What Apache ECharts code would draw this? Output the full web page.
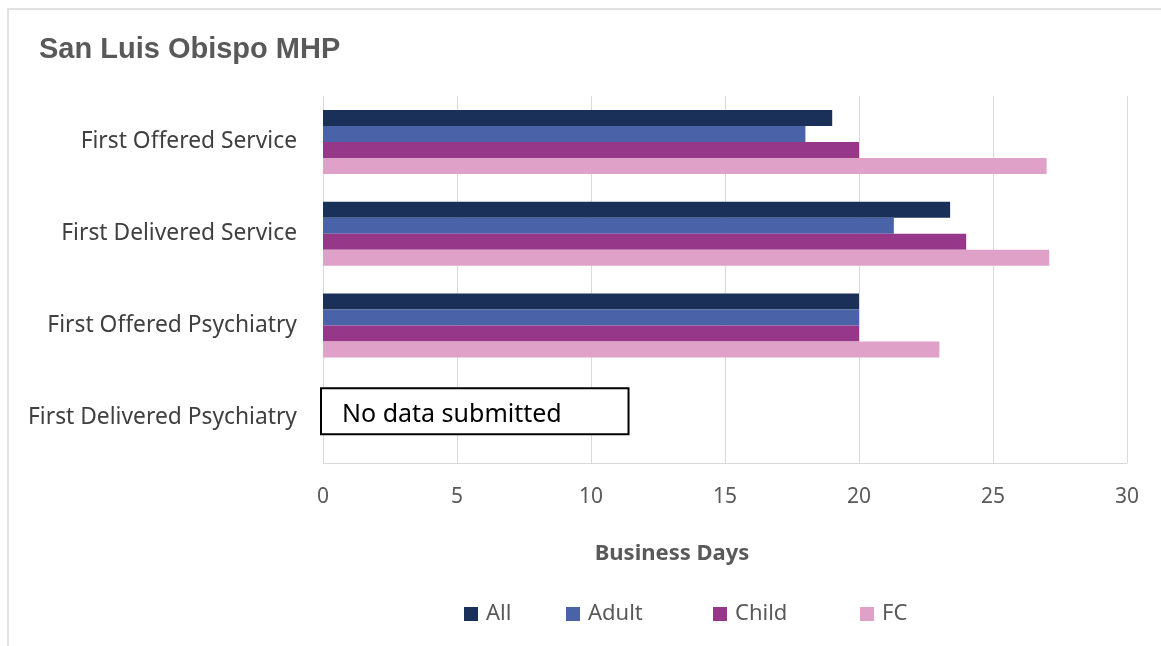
<!DOCTYPE html>
<html>
<head>
<meta charset="utf-8">
<script src="https://cdn.jsdelivr.net/npm/echarts@6/dist/echarts.min.js"></script>
<style>
  html, body { margin: 0; padding: 0; background: #ffffff; }
  #chart { width: 1161px; height: 646px; }
</style>
</head>
<body>
<div id="chart"></div>
<script>
// Timeliness measures (business days) by population
const categories = ['First Offered Service', 'First Delivered Service', 'First Offered Psychiatry', 'First Delivered Psychiatry'];
const seriesNames = ['All', 'Adult', 'Child', 'FC'];
const allValues   = [19, 23.4, 20, null];
const adultValues = [18, 21.3, 20, null];
const childValues = [20, 24, 20, null];
const fcValues    = [27, 27.1, 23, null];
const xTicks = [0, 5, 10, 15, 20, 25, 30];
const noDataCategory = 'First Delivered Psychiatry';
const noDataText = 'No data submitted';

const colors = ['#1A3059', '#4A63A8', '#963789', '#E0A1C8'];
const valueSets = [allValues, adultValues, childValues, fcValues];
const legendLefts = [464, 566, 713, 860];
const labelFont = '"Noto Sans", "Open Sans", sans-serif';

const chart = echarts.init(document.getElementById('chart'), null, { renderer: 'canvas' });

const frame = {
  type: 'rect',
  shape: { x: 8, y: 9, width: 1170, height: 660 },
  style: { fill: 'none', stroke: '#d9d9d9', lineWidth: 1.5 },
  silent: true,
  z: 0
};

const option = {
  animation: false,
  backgroundColor: '#ffffff',
  title: {
    text: 'San Luis Obispo MHP',
    left: 34,
    top: 30,
    textStyle: {
      fontFamily: '"Liberation Sans", Arial, sans-serif',
      fontWeight: 'bold',
      fontSize: 29,
      color: '#595959'
    }
  },
  // one legend block per series so each swatch sits at its own spot
  legend: seriesNames.map((name, i) => ({
    data: [name],
    left: legendLefts[i],
    top: 603,
    itemWidth: 14,
    itemHeight: 14,
    icon: 'rect',
    padding: 0,
    textStyle: { fontFamily: labelFont, fontSize: 22, color: '#595959', padding: [0, 0, 0, 3] }
  })),
  grid: { left: 323, right: 34, top: 96, bottom: 183, containLabel: false },
  xAxis: {
    type: 'value',
    min: xTicks[0],
    max: xTicks[xTicks.length - 1],
    interval: xTicks[1] - xTicks[0],
    name: 'Business Days',
    nameLocation: 'middle',
    nameGap: 80,
    nameTextStyle: {
      fontFamily: labelFont, fontWeight: 'bold', fontSize: 22, color: '#595959',
      padding: [0, 106, 0, 0]
    },
    axisLine: { show: true, lineStyle: { color: '#d9d9d9', width: 1 } },
    axisTick: { show: false },
    axisLabel: { fontFamily: labelFont, fontSize: 21, color: '#595959', margin: 24 },
    splitLine: { show: true, lineStyle: { color: '#d9d9d9', width: 1 } }
  },
  yAxis: {
    type: 'category',
    data: categories,
    inverse: true,
    axisLine: { show: false },
    axisTick: { show: false },
    axisLabel: { fontFamily: labelFont, fontSize: 22.8, color: '#404040', margin: 26 }
  },
  series: seriesNames.map((name, i) => ({
    name: name,
    type: 'bar',
    data: valueSets[i],
    barWidth: 16,
    barGap: '0%',
    itemStyle: { color: colors[i] }
  })),
  graphic: [frame]
};

chart.setOption(option);

// "No data submitted" callout anchored on the empty category row
const x0 = chart.convertToPixel({ xAxisIndex: 0 }, 0);
const xEnd = chart.convertToPixel({ xAxisIndex: 0 }, 11.4);
const yMid = chart.convertToPixel({ yAxisIndex: 0 }, noDataCategory);
chart.setOption({
  graphic: [
    frame,
    {
      type: 'rect',
      x: x0 - 2,
      y: yMid - 29,
      z: 100,
      zlevel: 0,
      shape: { x: 0, y: 0, width: xEnd - x0 + 2, height: 46 },
      style: { fill: '#ffffff', stroke: '#000000', lineWidth: 2 }
    },
    {
      type: 'text',
      x: x0 + 19,
      y: yMid - 2,
      z: 101,
      style: {
        text: noDataText,
        fontFamily: labelFont,
        fontSize: 25,
        fill: '#000000',
        verticalAlign: 'middle'
      }
    }
  ]
});
</script>
</body>
</html>
